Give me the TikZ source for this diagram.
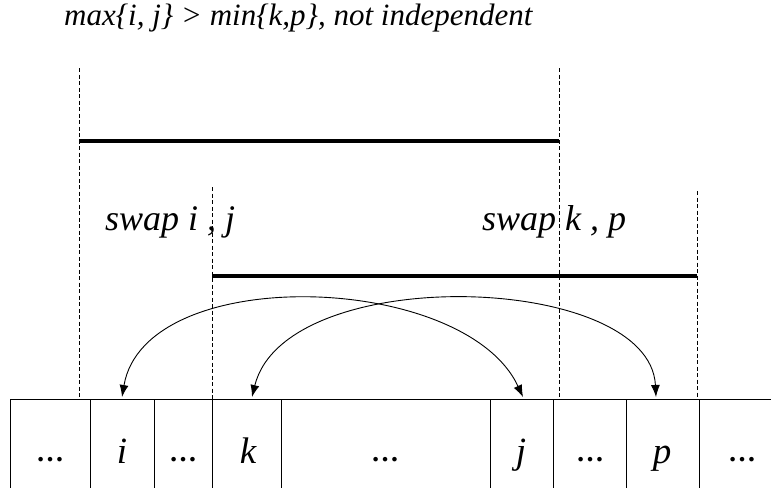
\documentclass[tikz,border=0pt]{standalone}
\usepackage{fontspec}
\setmainfont{Liberation Serif}
\usetikzlibrary{arrows.meta}
\begin{document}
\begin{tikzpicture}[x=1pt,y=-1pt,
  dashln/.style={line width=1pt,dash pattern=on 4pt off 2.5pt},
  thickln/.style={line width=3.5pt},
  cellln/.style={line width=1pt},
  swaparrow/.style={line width=0.9pt,{Latex[length=12pt,width=9pt]}-{Latex[length=12pt,width=9pt]}},
  lbl/.style={inner sep=0pt,anchor=base west,font=\fontsize{31}{36}\selectfont\itshape},
  swaplbl/.style={inner sep=0pt,anchor=base west,font=\fontsize{36}{40}\selectfont\itshape},
  celltxt/.style={inner sep=0pt,anchor=base,font=\fontsize{37}{40}\selectfont\itshape},
  celldots/.style={inner sep=0pt,anchor=base,font=\fontsize{28}{30}\selectfont\bfseries}]
\clip (0,0) rectangle (771,488);
\fill[white] (0,0) rectangle (771,488);
% title
\node[lbl] (title) at (64,25) {max\{i, j\} > min\{k,p\}, not independent};
% dashed verticals
\coordinate (d1t) at (79,68);  \coordinate (d1b) at (79,399);
\coordinate (d2t) at (212,187); \coordinate (d2b) at (212,399);
\coordinate (d3t) at (559,68); \coordinate (d3b) at (559,399);
\coordinate (d4t) at (697,191); \coordinate (d4b) at (697,399);
\draw[dashln] (d1t) -- (d1b);
\draw[dashln] (d2t) -- (d2b);
\draw[dashln] (d3t) -- (d3b);
\draw[dashln] (d4t) -- (d4b);
% thick spans
\coordinate (h1a) at (79,141); \coordinate (h1b) at (559,141);
\coordinate (h2a) at (212,276); \coordinate (h2b) at (697,276);
\draw[thickln] (h1a) -- (h1b);
\draw[thickln] (h2a) -- (h2b);
% swap labels
\node[swaplbl] (sw1) at (105,230) {swap i , j};
\node[swaplbl] (sw2) at (482,230) {swap k , p};
% table
\coordinate (tl) at (10,399); \coordinate (tr) at (771,399);
\draw[cellln] (tl) -- (tr);
\foreach \x in {10,90,154,212,281,490,553,626,699} {
  \draw[cellln] (\x,399) -- (\x,488);
}
\node[celldots] (c1) at (50,461) {…};
\node[celltxt]  (ci) at (122,463) {i};
\node[celldots] (c3) at (183,461) {…};
\node[celltxt]  (ck) at (248,463) {k};
\node[celldots] (c5) at (385,461) {…};
\node[celltxt]  (cj) at (521,463) {j};
\node[celldots] (c7) at (590,461) {…};
\node[celltxt]  (cp) at (662,463) {p};
\node[celldots] (c9) at (742,461) {…};
% arrows
\coordinate (ai) at (122,397); \coordinate (aj) at (523,397);
\coordinate (ak) at (252,397); \coordinate (ap) at (656,397);
\draw[swaparrow] (ai) .. controls (145,262) and (465,272) .. (aj);
\draw[swaparrow] (ak) .. controls (285,262) and (650,272) .. (ap);
\end{tikzpicture}
\end{document}
